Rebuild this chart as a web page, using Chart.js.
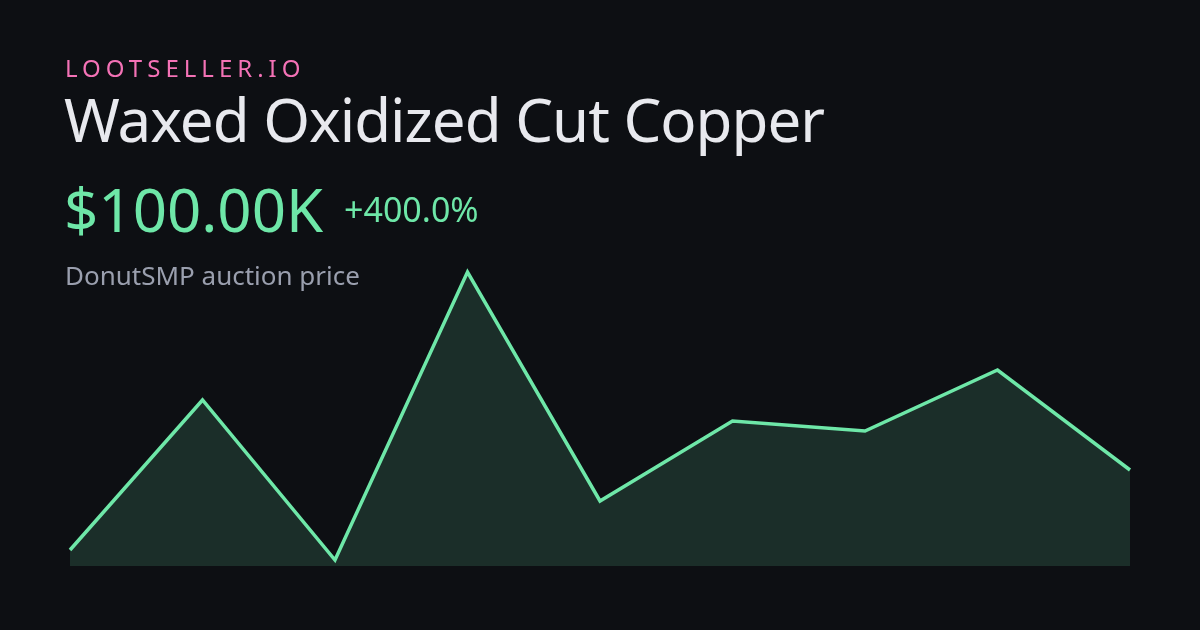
<!DOCTYPE html>
<html>
<head>
<meta charset="utf-8">
<script src="https://cdn.jsdelivr.net/npm/chart.js@4"></script>
<style>
  html, body { margin: 0; padding: 0; background: #0d0f13; }
  #wrap { position: relative; width: 1200px; height: 630px; overflow: hidden; background: #0d0f13; font-family: "Noto Sans", sans-serif; }
  #c { position: absolute; left: 0; top: 0; }
  .t { position: absolute; line-height: 1; white-space: nowrap; }
  #brand { left: 65px; top: 55.7px; font-size: 24px; letter-spacing: 5px; color: #f472b6; }
  #title { left: 64px; top: 88.7px; font-size: 60px; letter-spacing: -1px; color: #e8e9ee; }
  #price { left: 64px; top: 178.7px; font-size: 60px; color: #6ee7a8; }
  #change { left: 344px; top: 192px; font-size: 34px; color: #6ee7a8; }
  #sub { left: 65px; top: 261.9px; font-size: 26px; color: #9a9fae; }
</style>
</head>
<body>
<div id="wrap">
  <canvas id="c" width="1200" height="630"></canvas>
  <div class="t" id="brand">LOOTSELLER.IO</div>
  <div class="t" id="title">Waxed Oxidized Cut Copper</div>
  <div class="t" id="price">$100.00K</div>
  <div class="t" id="change">+400.0%</div>
  <div class="t" id="sub">DonutSMP auction price</div>
</div>
<script>
const labels = ["1", "2", "3", "4", "5", "6", "7", "8", "9"];
const prices = [20000, 170000, 10000, 298000, 69000, 149000, 139000, 200000, 100000];
const yMin = 4000;
const yMax = 310000;

new Chart(document.getElementById('c'), {
  type: 'line',
  data: {
    labels: labels,
    datasets: [{
      data: prices,
      borderColor: '#6ee7a8',
      backgroundColor: 'rgba(110,231,168,0.15)',
      borderWidth: 3.5,
      fill: 'start',
      tension: 0,
      pointRadius: 0,
      borderJoinStyle: 'miter'
    }]
  },
  options: {
    responsive: false,
    animation: false,
    layout: { padding: { left: 70, right: 70, top: 260, bottom: 64 } },
    plugins: { legend: { display: false }, tooltip: { enabled: false } },
    scales: {
      x: { display: false, offset: false },
      y: { display: false, min: yMin, max: yMax }
    }
  }
});
</script>
</body>
</html>
